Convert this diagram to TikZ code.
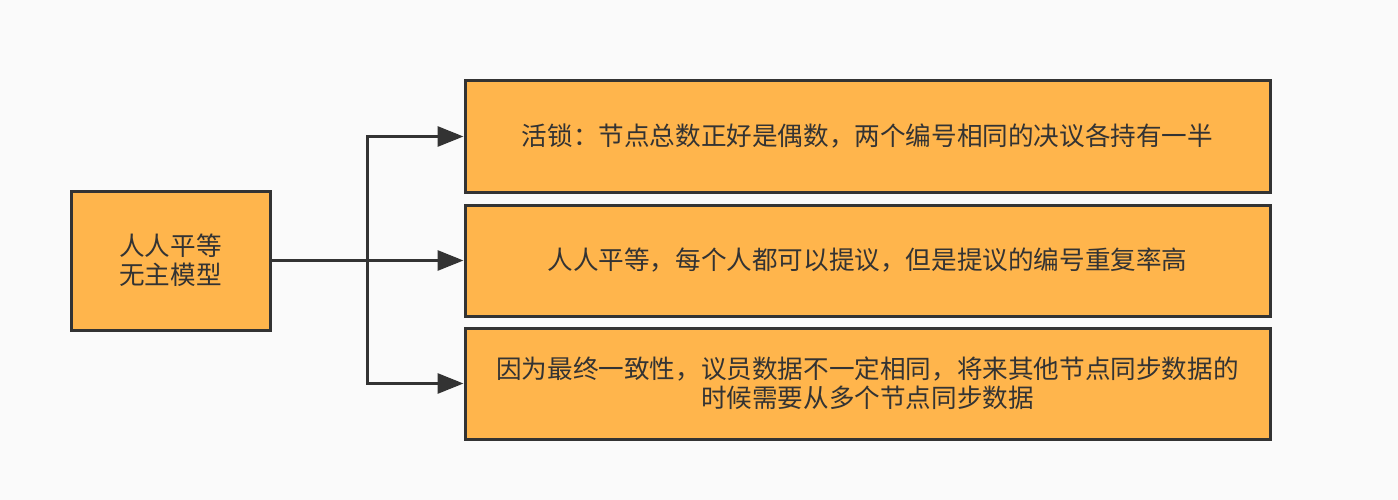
\documentclass[tikz,border=0pt]{standalone}
\usepackage{fontspec}
\setmainfont{Noto Sans CJK SC}
\usepackage{tikz}
\usetikzlibrary{arrows.meta}
\definecolor{bgpaper}{HTML}{FAFAFA}
\definecolor{boxorange}{HTML}{FFB54C}
\definecolor{linegray}{HTML}{333333}

\begin{document}
\begin{tikzpicture}[x=1pt,y=-1pt]
        \tikzstyle{every node} = [rectangle, draw=linegray, fill=boxorange, line width=3pt,
            text=linegray, align=center, font=\fontsize{25.6pt}{29pt}\selectfont]
        \tikzstyle{wide} = [minimum width=805pt, minimum height=111pt]
        \fill[bgpaper] (0,0) rectangle (1398,500);
        \node[minimum width=199pt, minimum height=139pt] (root) at (170.5,260.5) {人人平等\\无主模型};
        \node[wide] (lock) at (867.5,136.5) {活锁：节点总数正好是偶数，两个编号相同的决议各持有一半};
        \node[wide] (equal) at (867.5,260.5) {人人平等，每个人都可以提议，但是提议的编号重复率高};
        \node[wide] (sync) at (867.5,383.5) {因为最终一致性，议员数据不一定相同，将来其他节点同步数据的\\时候需要从多个节点同步数据};
        \coordinate (fork) at (367,260.5);
        \foreach \to in {lock, equal, sync}
            \draw[linegray, line width=3pt, -{Triangle[length=26pt,width=20pt]}]
                (root.east) -- (fork) |- (\to.west);
\end{tikzpicture}
\end{document}
